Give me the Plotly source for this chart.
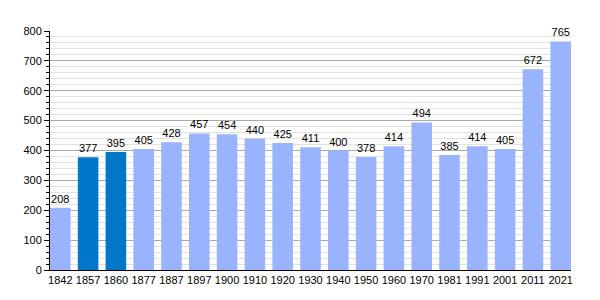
import plotly.graph_objects as go

years = ["1842", "1857", "1860", "1877", "1887", "1897", "1900", "1910", "1920", "1930",
         "1940", "1950", "1960", "1970", "1981", "1991", "2001", "2011", "2021"]
population = [208, 377, 395, 405, 428, 457, 454, 440, 425, 411,
              400, 378, 414, 494, 385, 414, 405, 672, 765]
highlight_years = ["1857", "1860"]

LIGHT = "#99b3ff"
DARK = "#0077c8"
colors = [DARK if y in highlight_years else LIGHT for y in years]

fig = go.Figure()
fig.add_trace(go.Bar(
    x=list(range(len(years))), y=population,
    marker=dict(color=colors, line=dict(width=0)),
    width=0.74,
    text=[str(v) for v in population],
    textposition="outside",
    textfont=dict(family="Liberation Sans, Arial", size=11, color="black"),
    cliponaxis=False,
))

fig.update_layout(
    width=600, height=300,
    margin=dict(l=50, r=29, t=31, b=30),
    paper_bgcolor="white", plot_bgcolor="white",
    showlegend=False,
    font=dict(family="Liberation Sans, Arial", size=11, color="black"),
    bargap=0.26,
)
fig.update_xaxes(
    tickmode="array", tickvals=list(range(len(years))), ticktext=years,
    range=[-0.37, len(years) - 1 + 0.37],
    showline=True, linecolor="black", linewidth=1,
    ticks="", showgrid=False, zeroline=False,
    tickfont=dict(size=11),
)
fig.update_yaxes(
    range=[0, 800], dtick=100,
    showline=True, linecolor="black", linewidth=1,
    ticks="outside", ticklen=5, tickcolor="black",
    showgrid=True, gridcolor="#aaaaaa", gridwidth=1,
    zeroline=False,
    tickfont=dict(size=11),
    minor=dict(dtick=20, ticks="outside", ticklen=3, tickcolor="black",
               showgrid=True, gridcolor="#e2e2e2"),
)

fig.write_html("out.html")
